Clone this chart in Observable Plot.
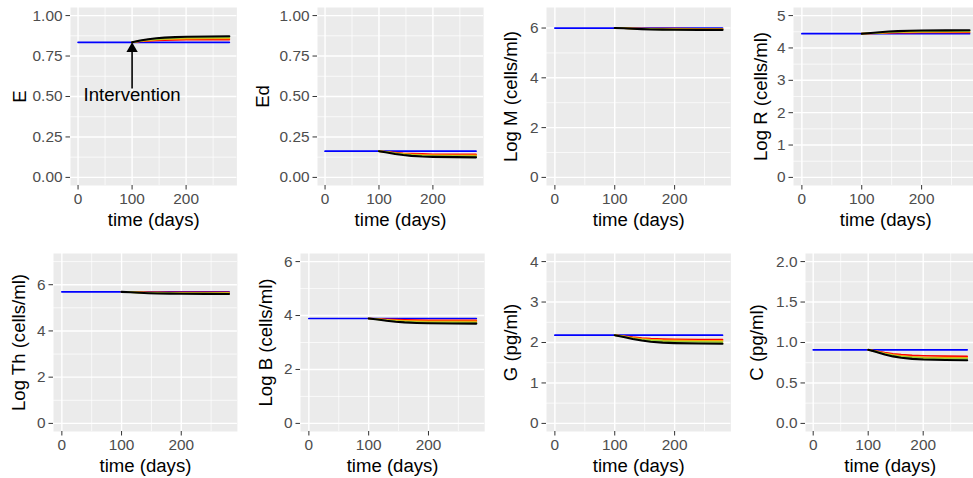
<!DOCTYPE html>
<html><head><meta charset="utf-8">
<script src="https://cdn.jsdelivr.net/npm/d3@7"></script>
<script src="https://cdn.jsdelivr.net/npm/@observablehq/plot@0.6"></script>
<style>
body{margin:0;background:#fff;}
#chart{position:relative;width:973px;height:478px;overflow:hidden;background:#fff;}
#chart svg{position:absolute;}
</style></head><body><div id="chart"></div>
<script>
// ---------- data ----------
const time = [100, 115, 130, 145, 160, 180, 200, 240, 280];   // intervention series (days)
const baseTime = [0, 280];                                     // baseline series (days)
const seriesNames = ["red", "orange", "green", "black"];
const seriesColors = ["#FF0000", "#FFA500", "#9ACD32", "#000000"];
const baselineColor = "#0000FF";

const panelLabels = ["E", "Ed", "Log M (cells/ml)", "Log R (cells/ml)",
                     "Log Th (cells/ml)", "Log B (cells/ml)", "G (pg/ml)", "C (pg/ml)"];
const xLabel = "time (days)";
const xTicks = [0, 100, 200];
const xLimits = [0, 280];

const yLimits = [[0, 1], [0, 1], [0, 6.5], [0, 5], [0, 7], [0, 6], [0, 4], [0, 2]];
const yTicks = [
  [0, 0.25, 0.5, 0.75, 1], [0, 0.25, 0.5, 0.75, 1], [0, 2, 4, 6], [0, 1, 2, 3, 4, 5],
  [0, 2, 4, 6], [0, 2, 4, 6], [0, 1, 2, 3, 4], [0, 0.5, 1, 1.5, 2]
];
const yTickFormats = [".2f", ".2f", "d", "d", "d", "d", "d", ".1f"];

const baselines = [0.835, 0.162, 6.0, 4.44, 5.69, 3.89, 2.18, 0.910];

const E_series = [
  [0.835, 0.840, 0.844, 0.846, 0.848, 0.850, 0.851, 0.852, 0.852],
  [0.835, 0.842, 0.847, 0.851, 0.854, 0.856, 0.857, 0.859, 0.859],
  [0.835, 0.844, 0.851, 0.855, 0.858, 0.861, 0.863, 0.864, 0.865],
  [0.835, 0.846, 0.854, 0.860, 0.864, 0.867, 0.869, 0.871, 0.872]
];
const Ed_series = [
  [0.162, 0.158, 0.153, 0.149, 0.147, 0.145, 0.143, 0.142, 0.142],
  [0.162, 0.157, 0.150, 0.146, 0.142, 0.139, 0.138, 0.137, 0.136],
  [0.162, 0.156, 0.148, 0.142, 0.138, 0.134, 0.132, 0.131, 0.130],
  [0.162, 0.154, 0.145, 0.138, 0.133, 0.129, 0.127, 0.125, 0.124]
];
const M_series = [
  [6.0, 5.995, 5.987, 5.982, 5.978, 5.975, 5.973, 5.971, 5.970],
  [6.0, 5.993, 5.981, 5.973, 5.967, 5.962, 5.958, 5.956, 5.955],
  [6.0, 5.991, 5.975, 5.964, 5.956, 5.948, 5.944, 5.941, 5.940],
  [6.0, 5.989, 5.970, 5.955, 5.944, 5.935, 5.930, 5.926, 5.925]
];
const R_series = [
  [4.44, 4.448, 4.458, 4.465, 4.470, 4.475, 4.478, 4.479, 4.480],
  [4.44, 4.452, 4.467, 4.478, 4.486, 4.492, 4.496, 4.499, 4.500],
  [4.44, 4.456, 4.476, 4.490, 4.501, 4.510, 4.514, 4.518, 4.520],
  [4.44, 4.461, 4.487, 4.506, 4.520, 4.531, 4.538, 4.543, 4.545]
];
const Th_series = [
  [5.69, 5.685, 5.679, 5.674, 5.671, 5.668, 5.667, 5.666, 5.665],
  [5.69, 5.681, 5.670, 5.662, 5.656, 5.651, 5.648, 5.646, 5.645],
  [5.69, 5.677, 5.661, 5.649, 5.641, 5.633, 5.630, 5.626, 5.625],
  [5.69, 5.672, 5.650, 5.633, 5.622, 5.612, 5.606, 5.602, 5.600]
];
const B_series = [
  [3.89, 3.876, 3.859, 3.846, 3.837, 3.829, 3.825, 3.821, 3.820],
  [3.89, 3.868, 3.841, 3.821, 3.806, 3.794, 3.788, 3.782, 3.780],
  [3.89, 3.860, 3.823, 3.795, 3.776, 3.759, 3.751, 3.743, 3.740],
  [3.89, 3.852, 3.805, 3.770, 3.746, 3.725, 3.713, 3.704, 3.700]
];
const G_series = [
  [2.18, 2.158, 2.131, 2.111, 2.096, 2.084, 2.078, 2.072, 2.070],
  [2.18, 2.152, 2.117, 2.092, 2.074, 2.058, 2.050, 2.043, 2.040],
  [2.18, 2.146, 2.104, 2.073, 2.051, 2.032, 2.022, 2.013, 2.010],
  [2.18, 2.138, 2.086, 2.048, 2.020, 1.997, 1.985, 1.974, 1.970]
];
const C_series = [
  [0.910, 0.894, 0.874, 0.860, 0.849, 0.840, 0.836, 0.832, 0.830],
  [0.910, 0.890, 0.865, 0.847, 0.834, 0.823, 0.817, 0.812, 0.810],
  [0.910, 0.888, 0.861, 0.840, 0.827, 0.815, 0.808, 0.802, 0.800],
  [0.910, 0.884, 0.852, 0.828, 0.811, 0.797, 0.789, 0.783, 0.780]
];
const allSeries = [E_series, Ed_series, M_series, R_series, Th_series, B_series, G_series, C_series];

const annotationText = "Intervention";
const annotationTime = 100;
const annotationY = [0.51, 0.55, 0.80]; // text, arrow tail, arrow head (E units)

// ---------- layout ----------
const frameLeft  = [70.4, 317.4, 545.6, 792.6, 53.3, 299.6, 545.6, 805.3];
const frameWidth = [166.4, 166.1, 184.4, 184.4, 183.9, 184.2, 184.4, 169.4];
const rowTop = [7, 253];
const frameHeight = 178;
const yTitleOffset = [50, 54, 35.6, 32, 34, 34.6, 35, 48.6];
const FONT = "'Liberation Sans', Arial, Helvetica, sans-serif";
const tickFont = 15.4, titleFont = 18.6;

const chart = document.getElementById("chart");

function expand([a, b]) { const d = (b - a) * 0.05; return [a - d, b + d]; }

for (let i = 0; i < 8; i++) {
  const mL = 75, mR = 8, mT = 7, mB = 58;
  const yDom = expand(yLimits[i]);
  const ticks = yTicks[i];
  const step = ticks[1] - ticks[0];
  const yMinor = ticks.map(t => t + step / 2).filter(v => v > yDom[0] && v < yDom[1]);
  const xMinor = xTicks.map(t => t + 50).filter(v => v < expand(xLimits)[1]);

  const base = baseTime.map(t => ({t, v: baselines[i]}));
  const lines = allSeries[i].map((vals, k) =>
    Plot.line(vals.map((v, j) => ({t: time[j], v})), {
      x: "t", y: "v", stroke: seriesColors[k], strokeWidth: k === 3 ? 2.1 : 1.7
    }));

  const marks = [
    Plot.frame({fill: "#EBEBEB", stroke: "none"}),
    Plot.ruleX(xMinor, {stroke: "white", strokeWidth: 0.7}),
    Plot.ruleY(yMinor, {stroke: "white", strokeWidth: 0.7}),
    Plot.ruleX(xTicks, {stroke: "white", strokeWidth: 1.4}),
    Plot.ruleY(ticks, {stroke: "white", strokeWidth: 1.4}),
    Plot.line(base, {x: "t", y: "v", stroke: baselineColor, strokeWidth: 1.7}),
    ...lines,
    Plot.axisX({ticks: xTicks, tickSize: 4.5, tickPadding: 3, fontSize: tickFont, label: null, stroke: "#333333", fill: "#4D4D4D"}),
    Plot.axisY({ticks: ticks, tickSize: 4.5, tickPadding: 3.5, fontSize: tickFont, label: null,
                tickFormat: d3.format(yTickFormats[i]), stroke: "#333333", fill: "#4D4D4D"}),
    Plot.text([xLabel], {frameAnchor: "bottom", dy: 35, fontSize: titleFont, fill: "black", lineAnchor: "middle"}),
    Plot.text([panelLabels[i]], {frameAnchor: "left", rotate: -90, dx: -yTitleOffset[i], fontSize: titleFont, fill: "black", lineAnchor: "middle", textAnchor: "middle"})
  ];

  if (i === 0) {
    marks.push(
      Plot.link([annotationTime], {x1: d => d, x2: d => d, y1: () => annotationY[1], y2: () => annotationY[2], stroke: "black", strokeWidth: 1.6}),
      Plot.dot([annotationTime], {x: d => d, y: () => annotationY[2] - 0.005, symbol: "triangle", r: 4.2, fill: "black", stroke: "none"}),
      Plot.text([annotationText], {x: () => annotationTime, y: () => annotationY[0], fontSize: titleFont, fill: "black"})
    );
  }

  const svg = Plot.plot({
    width: frameWidth[i] + mL + mR,
    height: frameHeight + mT + mB,
    marginLeft: mL, marginRight: mR, marginTop: mT, marginBottom: mB,
    x: {domain: expand(xLimits), label: null},
    y: {domain: yDom, label: null},
    style: {fontFamily: FONT, background: "transparent", overflow: "visible", color: "#4D4D4D"},
    marks
  });
  const row = i < 4 ? 0 : 1;
  svg.style.left = (frameLeft[i] - mL) + "px";
  svg.style.top = (rowTop[row] - mT) + "px";
  chart.appendChild(svg);
}
</script></body></html>
